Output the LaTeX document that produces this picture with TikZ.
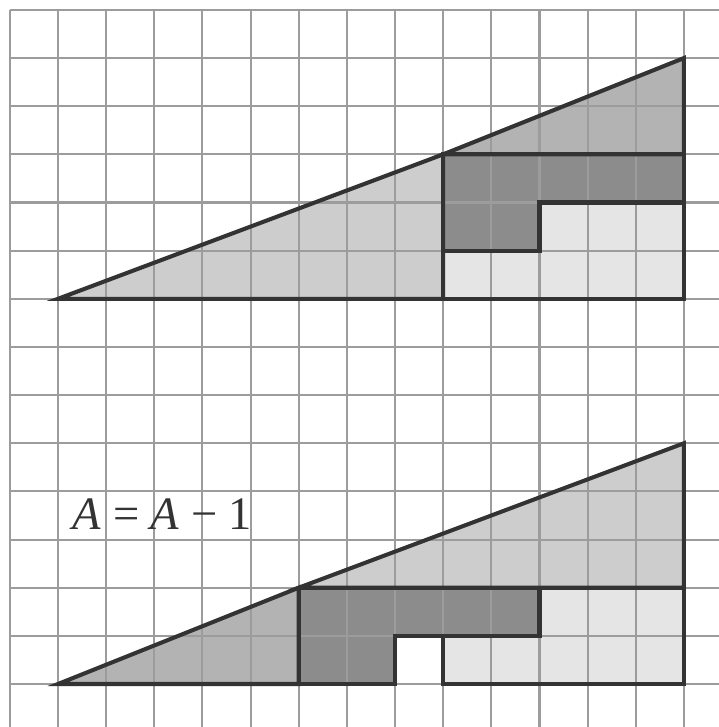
\documentclass[tikz,border=0pt]{standalone}
\usepackage{fontspec}
\setmainfont{Liberation Serif}
\definecolor{gridgray}{HTML}{9C9C9C}
\definecolor{outline}{HTML}{333333}
\definecolor{darkpiece}{HTML}{8C8C8C}
\definecolor{midpiece}{HTML}{B3B3B3}
\definecolor{lightpiece}{HTML}{CDCDCD}
\definecolor{palepiece}{HTML}{E5E5E5}
\tikzset{
  gridline/.style={draw=gridgray, line width=1.2pt},
  piece/.style={draw=outline, line width=2.4pt, line join=miter},
}
\begin{document}
\begin{tikzpicture}
	\useasboundingbox (-1.2046,-0.893) rectangle (13.728,14.206);
	
	% fills
	\fill[lightpiece] (0,8) -- (8,8) -- (8,11) -- cycle;
	\fill[midpiece] (8,11) -- (13,11) -- (13,13) -- cycle;
	\fill[darkpiece] (8,11) -- (13,11) -- (13,10) -- (10,10) -- (10,9) -- (8,9) -- cycle;
	\fill[palepiece] (8,9) -- (10,9) -- (10,10) -- (13,10) -- (13,8) -- (8,8) -- cycle;
	
	\fill[midpiece] (0,0) -- (5,0) -- (5,2) -- cycle;
	\fill[lightpiece] (5,2) -- (13,2) -- (13,5) -- cycle;
	\fill[darkpiece] (5,2) -- (10,2) -- (10,1) -- (7,1) -- (7,0) -- (5,0) -- cycle;
	\fill[palepiece] (8,0) -- (13,0) -- (13,2) -- (10,2) -- (10,1) -- (8,1) -- cycle;
	
	% grid
	\foreach \y in {0,...,14}
		\draw[gridline] (-1,\y) -- (13.728,\y);
	\foreach \x in {-1,...,13}
		\draw[gridline] (\x,-0.893) -- (\x,14);
	
	% outlines
	\draw[piece] (0,8) -- (8,8) -- (8,11) -- cycle;
	\draw[piece] (8,11) -- (13,11) -- (13,13) -- cycle;
	\draw[piece] (8,11) -- (13,11) -- (13,10) -- (10,10) -- (10,9) -- (8,9) -- cycle;
	\draw[piece] (8,9) -- (10,9) -- (10,10) -- (13,10) -- (13,8) -- (8,8) -- cycle;
	
	\draw[piece] (0,0) -- (5,0) -- (5,2) -- cycle;
	\draw[piece] (5,2) -- (13,2) -- (13,5) -- cycle;
	\draw[piece] (5,2) -- (10,2) -- (10,1) -- (7,1) -- (7,0) -- (5,0) -- cycle;
	\draw[piece] (8,0) -- (13,0) -- (13,2) -- (10,2) -- (10,1) -- (8,1) -- cycle;
	
	\node[anchor=base west, inner sep=0pt, text=outline, font=\fontsize{27.5}{27.5}\selectfont] (area) at (0.3,3.2) {\textit{A} = \textit{A} − 1};
\end{tikzpicture}
\end{document}
